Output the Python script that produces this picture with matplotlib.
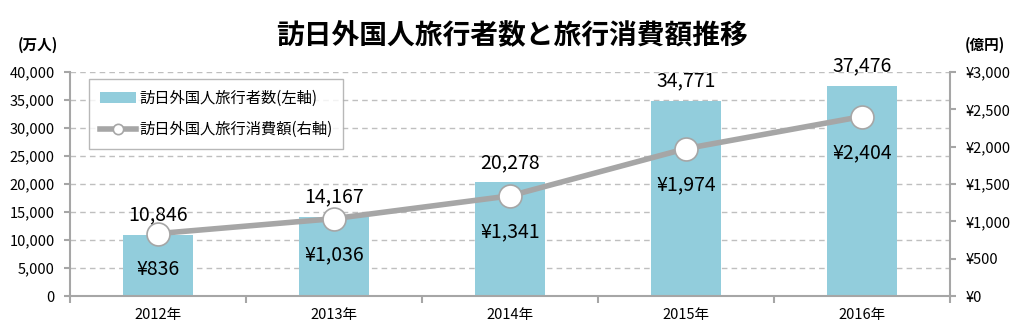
import matplotlib
matplotlib.use("Agg")
import matplotlib.pyplot as plt
from matplotlib.ticker import FuncFormatter, FixedLocator

plt.rcParams['font.family'] = ['Noto Sans CJK JP', 'DejaVu Sans']

years = ['2012年', '2013年', '2014年', '2015年', '2016年']
visitors = [10846, 14167, 20278, 34771, 37476]   # 万人
spending = [836, 1036, 1341, 1974, 2404]         # 億円

title = '訪日外国人旅行者数と旅行消費額推移'
bar_label = '訪日外国人旅行者数(左軸)'
line_label = '訪日外国人旅行消費額(右軸)'

bar_color = '#92cddc'
line_color = '#a6a6a6'
axis_color = '#a6a6a6'

fig = plt.figure(figsize=(10.24, 3.35), dpi=100)
ax = fig.add_axes([70 / 1024, 39 / 335, 880 / 1024, 224 / 335])
ax2 = ax.twinx()

x = list(range(len(years)))
bars = ax.bar(x, visitors, width=0.4, color=bar_color, label=bar_label, zorder=2)
ax.set_ylim(0, 40000)
ax.set_xlim(-0.5, len(years) - 0.5)
ax.set_yticks(range(0, 40001, 5000))
ax.yaxis.set_major_formatter(FuncFormatter(lambda v, p: f'{int(v):,}'))
ax.yaxis.grid(True, linestyle=(0, (4, 3)), color='#bfbfbf', linewidth=1)
ax.set_axisbelow(True)

ax.set_xticks(x)
ax.set_xticklabels(years, fontsize=10.5)
ax.tick_params(axis='x', length=0, pad=9)
ax.xaxis.set_minor_locator(FixedLocator([i - 0.5 for i in range(len(years) + 1)]))
ax.tick_params(axis='x', which='minor', length=5, color=axis_color, width=1.5)
ax.tick_params(axis='y', length=4, color=axis_color, width=1.5, labelsize=10.5, pad=7)

for s in ['top', 'right']:
    ax.spines[s].set_visible(False)
for s in ['left', 'bottom']:
    ax.spines[s].set_color(axis_color)
    ax.spines[s].set_linewidth(1.5)

for rect, v in zip(bars, visitors):
    ax.annotate(f'{v:,}', (rect.get_x() + rect.get_width() / 2, v),
                xytext=(0, 14.5), textcoords='offset points',
                ha='center', va='center', fontsize=14)

# spending line on the right axis
ax2.plot(x, spending, color=line_color, linewidth=4, marker='o', markersize=16.5,
         markerfacecolor='white', markeredgecolor=line_color, markeredgewidth=1.2,
         label=line_label, zorder=3)
ax2.set_ylim(0, 3000)
ax2.set_yticks(range(0, 3001, 500))
ax2.yaxis.set_major_formatter(FuncFormatter(lambda v, p: f'¥{int(v):,}'))
ax2.tick_params(axis='y', length=4, color=axis_color, width=1.5, labelsize=10.5, pad=7)
for s in ['top', 'left', 'bottom']:
    ax2.spines[s].set_visible(False)
ax2.spines['right'].set_color(axis_color)
ax2.spines['right'].set_linewidth(1.5)

for xi, v in zip(x, spending):
    ax2.annotate(f'¥{v:,}', (xi, v), xytext=(0, -26), textcoords='offset points',
                 ha='center', va='center', fontsize=14)

h1, l1 = ax.get_legend_handles_labels()
h2, l2 = ax2.get_legend_handles_labels()
leg = ax2.legend(h1 + h2, l1 + l2, loc='upper left', bbox_to_anchor=(19 / 880, 217 / 224),
                 fontsize=11, frameon=True, fancybox=False, edgecolor='#a6a6a6',
                 borderpad=0.7, labelspacing=0.95, handlelength=2.4, handletextpad=0.2,
                 markerscale=0.45, borderaxespad=0)
leg.get_frame().set_linewidth(1)

fig.text(0.5, 0.895, title, ha='center', va='center', fontsize=20, fontweight='bold')
fig.text(38 / 1024, 0.865, '(万人)', ha='center', va='center', fontsize=10.5, fontweight='bold')
fig.text(985 / 1024, 0.865, '(億円)', ha='center', va='center', fontsize=10.5, fontweight='bold')

fig.savefig('out.png', dpi=100)
